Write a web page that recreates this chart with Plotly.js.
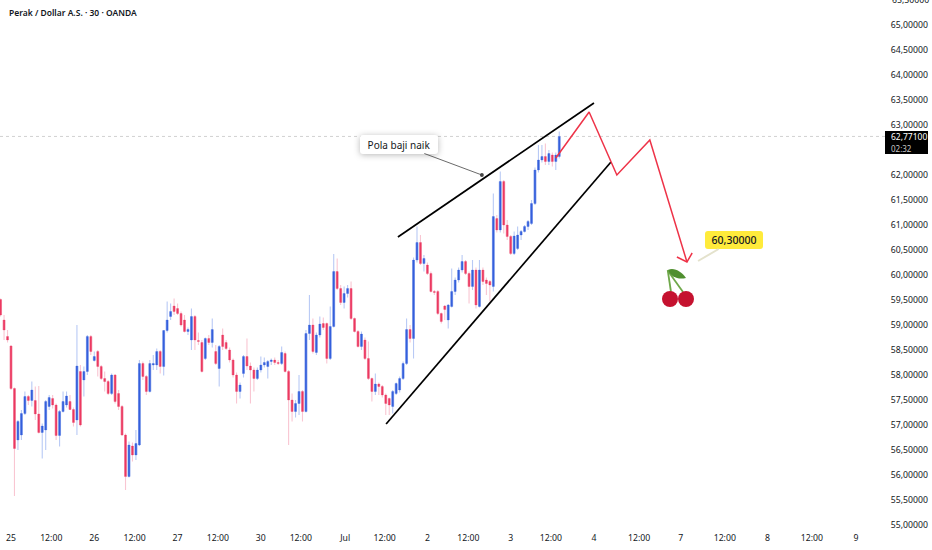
<!DOCTYPE html>
<html>
<head>
<meta charset="utf-8">
<script src="https://cdn.plot.ly/plotly-3.0.1.min.js"></script>
<style>
html,body{margin:0;padding:0;background:#fff;}
#chart{width:932px;height:550px;}
.annotation rect.bg{rx:3px;ry:3px;}
.soft .bg{filter:drop-shadow(0 1px 3px rgba(0,0,0,.28));}
</style>
</head>
<body>
<div id="chart"></div>
<script>
const firstHour = -3;
const opens = [
59.51,59.10,58.77,58.58,57.73,56.70,56.80,57.23,57.57,57.49,
57.49,57.22,56.85,56.90,57.37,57.53,57.40,56.79,57.27,57.40,
57.47,57.31,57.10,58.07,57.90,58.07,58.77,58.29,58.47,58.17,
57.93,57.87,57.63,58.00,57.63,57.37,56.80,55.97,56.58,56.40,
56.60,58.23,57.97,57.67,58.20,58.20,58.47,58.17,58.89,59.17,
59.38,59.33,59.23,59.10,58.87,58.70,59.17,58.69,58.65,58.33,
58.73,58.65,58.47,58.13,58.80,58.65,58.50,58.30,58.00,57.67,
58.03,58.37,58.18,58.10,57.93,58.10,58.20,58.17,58.27,58.30,
58.25,58.23,58.43,58.07,57.50,57.27,57.43,57.67,57.27,58.83,
59.00,58.45,58.80,59.03,59.03,58.33,58.97,60.07,59.73,59.45,
59.63,59.73,59.13,58.87,58.57,58.70,58.33,57.93,57.67,57.82,
57.77,57.60,57.53,57.37,57.63,57.70,57.93,58.23,58.91,58.73,
60.30,60.65,60.23,60.20,60.03,59.67,59.67,59.23,59.38,59.10,
59.37,59.67,59.90,60.10,60.27,60.03,59.77,60.10,59.37,60.10,
59.90,59.87,59.77,61.13,60.90,61.87,61.00,60.77,60.43,60.53,
60.80,60.87,60.97,61.03,61.43,62.10,62.30,62.37,62.27,62.40,62.27,62.37];
const highs = [
59.53,59.20,58.90,58.60,57.75,57.10,57.30,57.67,57.60,57.87,
57.77,57.78,57.03,57.50,57.60,57.60,57.43,57.30,57.67,57.67,
57.60,57.35,59.00,58.20,58.17,58.80,58.80,58.47,58.50,58.20,
58.07,57.90,58.03,58.02,57.70,57.40,56.83,56.67,56.65,56.90,
58.30,58.27,58.00,58.30,58.40,58.53,58.50,58.90,59.47,59.43,
59.53,59.43,59.27,59.20,58.95,59.33,59.20,58.85,58.70,58.75,
58.80,59.13,58.60,58.60,58.93,58.70,58.55,58.33,58.05,57.85,
58.40,58.73,58.25,58.15,58.15,58.37,58.35,58.30,58.33,58.35,
58.30,58.57,58.47,58.10,57.63,57.50,58.00,57.70,58.90,59.60,
59.13,58.85,59.17,59.15,59.05,59.37,60.42,60.33,59.80,59.77,
59.80,59.87,59.15,58.90,58.87,58.75,58.67,57.95,58.03,57.85,
57.80,57.63,57.55,57.70,57.85,57.97,58.27,59.13,59.00,60.35,
60.97,60.80,60.40,60.25,60.07,59.70,59.70,59.25,59.40,59.42,
60.13,59.95,60.15,60.40,60.30,60.07,60.30,60.15,60.30,60.15,
59.95,59.90,61.63,61.20,62.07,61.90,61.10,60.80,60.87,60.97,
60.90,61.00,61.10,61.50,62.15,62.60,62.60,62.63,62.50,62.45,62.45,62.87];
const lows = [
59.17,58.70,58.65,57.70,55.58,56.50,56.70,57.20,57.40,57.37,
57.10,56.83,56.33,56.50,57.30,57.33,56.70,56.57,57.25,57.35,
57.30,56.97,56.80,56.97,57.57,58.00,58.40,58.27,57.97,57.90,
57.67,57.60,57.60,57.43,57.30,56.78,55.70,55.95,56.27,56.30,
56.58,57.90,57.60,57.65,58.10,58.10,58.03,57.99,58.85,59.10,
59.20,59.20,58.97,58.85,58.80,58.50,58.50,58.60,58.05,58.30,
58.60,58.55,58.20,57.77,58.50,58.50,58.25,57.95,57.43,57.53,
57.95,58.10,57.43,57.67,57.90,58.05,58.15,57.93,58.20,58.20,
58.20,58.20,58.05,56.60,57.07,57.15,57.20,57.07,57.25,58.70,
58.43,58.40,58.75,58.90,58.23,58.30,58.95,59.70,59.40,59.33,
59.55,59.10,58.85,58.55,58.50,58.30,57.90,57.47,57.60,57.60,
57.55,57.20,57.20,57.23,57.60,57.65,57.90,58.20,58.65,58.33,
60.25,60.20,60.07,60.00,59.65,59.60,59.20,59.03,59.10,58.93,
59.35,59.60,59.85,60.05,60.00,59.43,59.70,59.33,59.35,59.80,
59.60,59.47,59.67,60.85,60.85,60.83,60.70,60.40,60.40,60.50,
60.70,60.85,60.90,61.00,61.40,62.05,62.25,62.20,62.20,62.17,62.10,62.33];
const closes = [
59.20,58.90,58.70,57.73,56.53,57.07,57.23,57.57,57.49,57.70,
57.22,56.85,56.98,57.47,57.55,57.40,56.79,57.27,57.47,57.58,
57.31,57.05,58.18,57.00,58.07,58.77,58.47,58.37,58.17,57.93,
57.87,57.63,58.00,57.47,57.37,56.80,55.97,56.60,56.40,56.63,
58.23,57.97,57.67,58.23,58.23,58.47,58.17,58.89,59.10,59.27,
59.27,59.23,59.00,58.87,58.91,59.17,58.70,58.67,58.07,58.73,
58.65,58.91,58.23,58.57,58.57,58.53,58.30,58.00,57.67,57.80,
58.37,58.18,58.10,57.93,58.10,58.20,58.25,58.27,58.30,58.25,
58.23,58.45,58.07,57.50,57.27,57.43,57.67,57.27,58.83,59.00,
58.47,58.80,59.02,58.95,58.33,58.97,60.07,59.73,59.45,59.63,
59.73,59.13,58.87,58.57,58.82,58.33,57.93,57.67,57.82,57.77,
57.60,57.43,57.40,57.67,57.83,57.93,58.23,58.91,58.73,60.30,
60.65,60.23,60.33,60.03,59.67,59.65,59.23,59.07,59.31,59.40,
59.67,59.90,60.10,60.27,60.03,59.77,60.10,59.40,60.10,59.87,
59.83,59.80,61.17,60.90,61.87,61.00,60.77,60.43,60.78,60.80,
60.87,60.97,61.07,61.43,62.10,62.30,62.37,62.27,62.43,62.27,62.40,62.77];

const xTickHours = [0,11.6,24,35.6,48,59.6,72,83.5,96.3,107.7,120,131.8,144,155.6,168,181,193,205.7,218,230.8,243.5];
const xTickLabels = ["25","12:00","26","12:00","27","12:00","30","12:00","Jul","12:00","2","12:00","3","12:00","4","12:00","7","12:00","8","12:00","9"];
const yTicks = [55,55.5,56,56.5,57,57.5,58,58.5,59,59.5,60,60.5,61,61.5,62,63,63.5,64,64.5,65];
const clippedTopLabel = "65,50000";

const wedgeUpperHours = [111.5,168];
const wedgeUpperPrices = [60.76,63.44];
const wedgeLowerHours = [108.1,172.9];
const wedgeLowerPrices = [57.02,62.26];
const forecastHours = [157,166.6,174.6,184.1,194.8];
const forecastPrices = [62.34,63.26,62.00,62.70,60.26];
const arrowHours = [191.9,194.8,196.3];
const arrowPrices = [60.36,60.26,60.44];

const titleText = "Perak / Dollar A.S. · 30 · OANDA";
const lastPrice = 62.771;
const lastPriceLabel = "62,77100";
const countdownLabel = "02:32";
const patternLabel = "Pola baji naik";
const targetLabel = "60,30000";

const BLUE = "#3560dc", RED = "#ec3a62", PALE_BLUE = "#b9caf5", PALE_RED = "#f9c6d2";
const FONT = "'Noto Sans', sans-serif";
const hours = opens.map((_, i) => firstHour + i);
const bottoms = opens.map((o, i) => Math.min(o, closes[i]));
const bodySizes = opens.map((o, i) => Math.abs(closes[i] - o));
const ranges = highs.map((h, i) => h - lows[i]);
const rising = opens.map((o, i) => closes[i] >= o);
const paleColors = rising.map(r => r ? PALE_BLUE : PALE_RED);
const bodyColors = rising.map(r => r ? BLUE : RED);

const bars = (base, size, width, colors, edge) => ({
  type: "bar", x: hours, y: size, base, width,
  marker: {color: colors, line: {color: colors, width: edge}},
  hoverinfo: "skip", showlegend: false
});
const line = (x, y, color, width) => ({type: "scatter", mode: "lines", x, y,
  line: {color, width}, hoverinfo: "skip", showlegend: false});

const cherrySvg = "<svg xmlns='http://www.w3.org/2000/svg' viewBox='0 0 36 43' width='36' height='43'>" +
  "<path d='M7.7 3 L11 25' stroke='#6fa84a' stroke-width='1.8' fill='none'/>" +
  "<path d='M8 4 L23 25' stroke='#6fa84a' stroke-width='1.8' fill='none'/>" +
  "<path d='M8 3 C14 0 22 5 26 11 C18 13 11 10 8 3 Z' fill='#4f8f2f'/>" +
  "<circle cx='10' cy='32' r='8' fill='#c5122f'/>" +
  "<circle cx='26' cy='32' r='8' fill='#c5122f'/></svg>";

const layout = {
  width: 932, height: 550,
  margin: {l: 0, r: 47, t: 0, b: 25},
  paper_bgcolor: "#ffffff", plot_bgcolor: "#ffffff",
  separators: ", ",
  showlegend: false,
  barmode: "overlay",
  font: {family: FONT, size: 9, color: "#131722"},
  xaxis: {
    type: "linear", range: [-3.17, 251.87], tickmode: "array",
    tickvals: xTickHours, ticktext: xTickLabels,
    showgrid: false, zeroline: false, showline: false,
    ticks: "outside", ticklen: 5, tickcolor: "rgba(0,0,0,0)",
    tickangle: 0,
    tickfont: {family: FONT, size: 8.7, color: "#131722"}
  },
  yaxis: {
    side: "right", range: [55, 65.5], tickmode: "array", tickvals: yTicks,
    tickformat: ".5f", showgrid: false, zeroline: false, showline: false,
    ticks: "outside", ticklen: 3, tickcolor: "rgba(0,0,0,0)",
    tickfont: {family: FONT, size: 8.7, color: "#131722"}
  },
  shapes: [
    {type: "line", xref: "paper", x0: 0, x1: 1, yref: "y", y0: lastPrice, y1: lastPrice,
     line: {color: "#bdbdbd", width: 0.7, dash: "dot"}, layer: "below"},
    {type: "rect", xref: "paper", x0: 1, x1: 928 / 885, yref: "paper",
     y0: 1 - 154 / 525, y1: 1 - 131 / 525, fillcolor: "#000000",
     line: {width: 0}, layer: "above"}
  ],
  images: [{
    source: "data:image/svg+xml;utf8," + encodeURIComponent(cherrySvg),
    xref: "paper", yref: "paper", x: 660 / 885, y: 1 - 267 / 525,
    sizex: 36 / 885, sizey: 43 / 525, sizing: "stretch",
    xanchor: "left", yanchor: "top", layer: "above"
  }],
  annotations: [
    {xref: "paper", yref: "paper", x: 7 / 885, y: 1 - 12 / 525, xanchor: "left", yanchor: "middle",
     text: titleText, showarrow: false, font: {family: FONT, size: 8.5, color: "#131722", weight: 600}},
    {xref: "paper", yref: "paper", x: 889 / 885, y: 1 - 136.5 / 525, xanchor: "left", yanchor: "middle",
     text: lastPriceLabel, showarrow: false, font: {family: FONT, size: 8.5, color: "#ffffff"}},
    {xref: "paper", yref: "paper", x: 889 / 885, y: 1 - 148 / 525, xanchor: "left", yanchor: "middle",
     text: countdownLabel, showarrow: false, font: {family: FONT, size: 8, color: "#c8c8c8"}},
    {xref: "paper", yref: "paper", x: 890 / 885, y: 1, xanchor: "left", yanchor: "middle",
     text: clippedTopLabel, showarrow: false, font: {family: FONT, size: 8.7, color: "#131722"}},
    {x: 135.7, y: 62.0, xref: "x", yref: "y", ax: -83, ay: -31, axref: "pixel", ayref: "pixel",
     text: patternLabel, width: 78, height: 19, bgcolor: "#ffffff", borderpad: 0, borderwidth: 0,
     font: {family: FONT, size: 10, color: "#131722"},
     showarrow: true, arrowhead: 6, arrowsize: 1.2, arrowwidth: 0.8, arrowcolor: "#444444", standoff: 0},
    {x: 198, y: 60.28, xref: "x", yref: "y", ax: 36, ay: -21, axref: "pixel", ayref: "pixel",
     text: targetLabel, width: 58, height: 18, bgcolor: "#ffeb3b", borderpad: 0, borderwidth: 0,
     font: {family: FONT, size: 10.5, color: "#131722", weight: 500},
     showarrow: true, arrowhead: 0, arrowwidth: 2, arrowcolor: "#e4e2cc", standoff: 0}
  ]
};

Plotly.newPlot("chart", [
  bars(lows, ranges, 0.32, paleColors, 0),
  bars(bottoms, bodySizes, 0.85, paleColors, 0),
  bars(bottoms, bodySizes, 0.5, bodyColors, 0.3),
  line(wedgeUpperHours, wedgeUpperPrices, "#000000", 1.7),
  line(wedgeLowerHours, wedgeLowerPrices, "#000000", 1.7),
  line(forecastHours, forecastPrices, "#ee3348", 1.5),
  line(arrowHours, arrowPrices, "#ee3348", 1.5)
], layout, {displayModeBar: false, staticPlot: true}).then(() => {
  const anns = document.querySelectorAll(".annotation");
  anns.forEach(a => { if (a.textContent.indexOf(patternLabel) >= 0) a.classList.add("soft"); });
});
</script>
</body>
</html>
